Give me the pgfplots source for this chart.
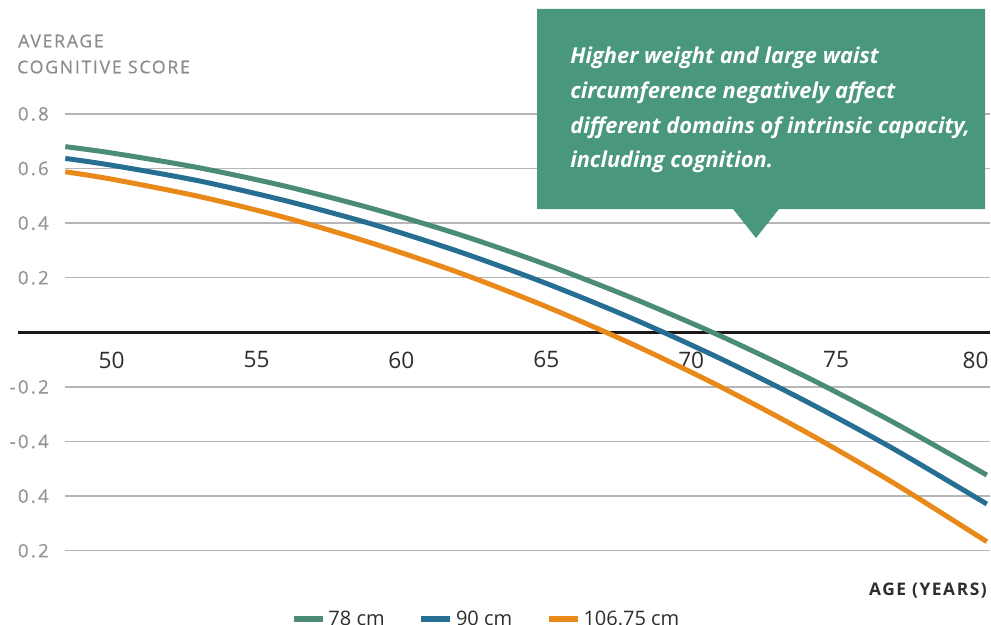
\documentclass[border=0pt]{standalone}
\usepackage{fontspec}
\setmainfont{Open Sans}
\newfontfamily\spaced[LetterSpace=12, FakeBold=0.6]{Open Sans}
\newfontfamily\spacedtitle[LetterSpace=10, FakeBold=0.6]{Open Sans}
\newfontfamily\spacedbold[LetterSpace=9]{Open Sans}
\usepackage{pgfplots}
\pgfplotsset{compat=1.18}

\newlength\px
\setlength\px{0.75pt}

\definecolor{cgreen}{RGB}{74,140,118}
\definecolor{cblue}{RGB}{39,111,146}
\definecolor{corange}{RGB}{232,137,26}
\definecolor{boxgreen}{RGB}{74,151,127}
\definecolor{gridgray}{RGB}{182,182,182}
\definecolor{labgray}{RGB}{150,150,150}
\definecolor{titlegray}{RGB}{140,140,140}
\definecolor{darktext}{RGB}{45,45,45}

\begin{document}
\begin{tikzpicture}
\begin{axis}[
  at={(65\px,-550.7\px)}, anchor=south west,
  scale only axis, width=925\px, height=436.8\px,
  xmin=48.39, xmax=80.31, ymin=-0.8, ymax=0.8,
  axis x line=middle, axis y line=left,
  every inner x axis line/.append style={-},
  x axis line style={draw=black!90, line width=3\px, -, shorten <=-47\px},
  y axis line style={draw=none},
  major tick length=0pt,
  xtick={50,55,60,65,70,75,80},
  xticklabels={50,55,60,65,70,75,{\hspace*{-11\px}80}},
  xticklabel style={font=\fontsize{17}{20}\selectfont, text=darktext, inner sep=0pt, anchor=north, yshift=-19\px},
  ytick={-0.8,-0.6,-0.4,-0.2,0.2,0.4,0.6,0.8},
  yticklabels={0.2,0.4,-0.4,-0.2,0.2,0.4,0.6,0.8},
  yticklabel style={font=\spaced\fontsize{14}{16}\selectfont, text=labgray, inner sep=0pt, anchor=east, xshift=-16\px},
  ymajorgrids,
  major grid style={gridgray, line width=1.5\px},
  clip=false,
  legend columns=3,
  legend style={draw=none, fill=none, at={(rel axis cs:0.2395,-0.157)}, anchor=west,
    font=\fontsize{15}{17}\selectfont, text=darktext,
    /tikz/every even column/.append style={column sep=31\px}},
  legend cell align=left,
  legend image code/.code={\draw[#1, line width=6\px] (0pt,0pt) -- (29\px,0pt);},
]
\addplot[smooth, line width=5\px, color=cgreen] coordinates {
  (48.4,0.680) (50,0.657) (53,0.603) (56,0.535) (59,0.453) (62,0.358)
  (65,0.248) (68,0.124) (71,-0.013) (74,-0.165) (77,-0.331) (80.2,-0.523)
};
\addlegendentry{78 cm}
\addplot[smooth, line width=5\px, color=cblue] coordinates {
  (48.4,0.637) (50,0.612) (53,0.555) (56,0.482) (59,0.396) (62,0.295)
  (65,0.179) (68,0.049) (71,-0.096) (74,-0.255) (77,-0.428) (80.2,-0.629)
};
\addlegendentry{90 cm}
\addplot[smooth, line width=5\px, color=corange] coordinates {
  (48.4,0.588) (50,0.561) (53,0.498) (56,0.420) (59,0.326) (62,0.218)
  (65,0.094) (68,-0.045) (71,-0.199) (74,-0.368) (77,-0.553) (80.2,-0.767)
};
\addlegendentry{106.75 cm}
\end{axis}

% axis titles
\node[anchor=base west, inner sep=0pt, text=titlegray, font=\spacedtitle\fontsize{13.2}{15}\selectfont] at (18\px,-47.3\px) {AVERAGE};
\node[anchor=base west, inner sep=0pt, text=titlegray, font=\spacedtitle\fontsize{13.2}{15}\selectfont] at (17\px,-73.3\px) {COGNITIVE SCORE};
\node[anchor=base east, inner sep=0pt, text=darktext, font=\spacedbold\bfseries\fontsize{13}{15}\selectfont] at (987\px,-595\px) {AGE (YEARS)};

% callout
\fill[boxgreen] (537\px,-9\px) -- (985\px,-9\px) -- (985\px,-209\px) -- (779\px,-209\px)
  -- (756\px,-238\px) -- (733\px,-209\px) -- (537\px,-209\px) -- cycle;
\begin{scope}[every node/.style={anchor=base west, inner sep=0pt, text=white, font=\bfseries\itshape\fontsize{16.4}{19}\selectfont}]
\node at (570\px,-63.3\px) {Higher weight and large waist};
\node at (570\px,-98.3\px) {circumference negatively affect};
\node at (570\px,-133.3\px) {different domains of intrinsic capacity,};
\node at (570\px,-167.5\px) {including cognition.};
\end{scope}

\pgfresetboundingbox
\useasboundingbox (0,0) rectangle (991\px,-624\px);
\end{tikzpicture}
\end{document}
